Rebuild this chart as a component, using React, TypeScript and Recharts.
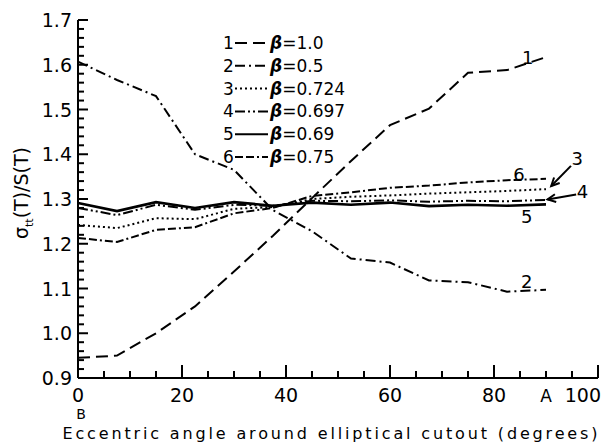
import React from 'react';
import { LineChart, Line, XAxis, YAxis, Legend, ReferenceDot, ReferenceLine } from 'recharts';

// eccentric angle (degrees) at which the stress ratio was sampled
const angles = [0, 7.5, 15, 22.5, 30, 37.5, 45, 52.5, 60, 67.5, 75, 82.5, 90];

const beta100 = [0.945, 0.95, 1.0, 1.06, 1.138, 1.218, 1.302, 1.385, 1.465, 1.502, 1.582, 1.588, 1.617];
const beta050 = [1.607, 1.566, 1.53, 1.4, 1.365, 1.275, 1.228, 1.167, 1.158, 1.118, 1.114, 1.093, 1.097];
const beta0724 = [1.242, 1.235, 1.257, 1.255, 1.278, 1.282, 1.3, 1.305, 1.308, 1.312, 1.315, 1.318, 1.322];
const beta0697 = [1.28, 1.264, 1.287, 1.276, 1.287, 1.285, 1.296, 1.295, 1.297, 1.294, 1.296, 1.295, 1.298];
const beta069 = [1.291, 1.273, 1.293, 1.28, 1.293, 1.285, 1.292, 1.287, 1.292, 1.284, 1.287, 1.285, 1.288];
const beta075 = [1.213, 1.204, 1.231, 1.237, 1.268, 1.28, 1.307, 1.315, 1.325, 1.33, 1.337, 1.342, 1.345];

const seriesKeys = ['b1', 'b2', 'b3', 'b4', 'b5', 'b6'];
const seriesValues = [beta100, beta050, beta0724, beta0697, beta069, beta075];
const seriesNumbers = ['1', '2', '3', '4', '5', '6'];
const seriesBetas = ['1.0', '0.5', '0.724', '0.697', '0.69', '0.75'];
const seriesDashes = ['12 6', '10 4 2 4', '2 3', '10 3 2 3 2 3', '', '8 3 8 3 2 3'];
const seriesWidths = [2, 2, 2, 2, 2.6, 2];

// curve tags written on the plot, in data units
const tagText = ['1', '2', '3', '4', '5', '6'];
const tagX = [86.5, 86.3, 96, 97, 86.3, 84.8];
const tagY = [1.617, 1.117, 1.392, 1.318, 1.262, 1.356];

// arrows from tags 3 and 4 to their curves
const arrowFrom = [{ x: 94.8, y: 1.374 }, { x: 95.8, y: 1.31 }];
const arrowTo = [{ x: 91, y: 1.329 }, { x: 90.3, y: 1.299 }];

const xTickLabels: Record<number, string> = { 0: '0', 20: '20', 40: '40', 60: '60', 80: '80', 90: 'A', 100: '100' };
const yTickLabels = ['0.9', '1.0', '1.1', '1.2', '1.3', '1.4', '1.5', '1.6', '1.7'];

const xTicks = Array.from({ length: 21 }, (_, i) => i * 5);
const yTicks = Array.from({ length: 41 }, (_, i) => +(0.9 + i * 0.02).toFixed(2));
const yRightTicks = Array.from({ length: 17 }, (_, i) => +(0.9 + i * 0.05).toFixed(2));

const data = angles.map((a, i) => {
  const row: Record<string, number> = { angle: a };
  seriesKeys.forEach((k, s) => { row[k] = seriesValues[s][i]; });
  return row;
});

const FONT = '"DejaVu Sans", sans-serif';
const isTenth = (v: number) => Math.abs(v * 10 - Math.round(v * 10)) < 1e-6;

const BottomTick = (props: any) => {
  const { x, y, payload } = props;
  const v = payload.value;
  const major = v % 20 === 0;
  const label = xTickLabels[v];
  const last = v === 100;
  return (
    <g>
      <line x1={x} y1={y} x2={x} y2={y - (major ? 13 : 7)} stroke="#000" strokeWidth={2} />
      {label !== undefined && (
        <text
          x={last ? x + 3 : x}
          y={y + 24}
          textAnchor={last ? 'end' : 'middle'}
          fontSize={label === 'A' ? 17 : 19}
          fontFamily={FONT}
          fill="#000"
        >
          {label}
        </text>
      )}
      {v === 0 && (
        <text x={x + 3} y={y + 41} textAnchor="middle" fontSize={14} fontFamily={FONT} fill="#000">B</text>
      )}
    </g>
  );
};

const TopTick = (props: any) => {
  const { x, y, payload } = props;
  const major = payload.value % 20 === 0;
  return <line x1={x} y1={y} x2={x} y2={y + (major ? 13 : 7)} stroke="#000" strokeWidth={2} />;
};

const LeftTick = (props: any) => {
  const { x, y, payload } = props;
  const v = payload.value;
  const major = isTenth(v);
  const idx = Math.round((v - 0.9) * 10);
  return (
    <g>
      <line x1={x} y1={y} x2={x + (major ? 10 : 6)} y2={y} stroke="#000" strokeWidth={2} />
      {major && (
        <text x={x - 6} y={y + 7} textAnchor="end" fontSize={19} fontFamily={FONT} fill="#000">{yTickLabels[idx]}</text>
      )}
    </g>
  );
};

const RightTick = (props: any) => {
  const { x, y, payload } = props;
  const major = isTenth(payload.value);
  return <line x1={x} y1={y} x2={x - (major ? 11 : 8)} y2={y} stroke="#000" strokeWidth={2} />;
};

const LegendBox = () => (
  <svg width={130} height={140} style={{ overflow: 'visible' }}>
    {seriesNumbers.map((n, i) => {
      const cy = 13 + i * 22.8;
      return (
        <g key={n} fontFamily={FONT} fontSize={17} fill="#000">
          <text x={8} y={cy + 6}>{n}</text>
          <line x1={20} y1={cy} x2={53} y2={cy} stroke="#000" strokeWidth={2} strokeDasharray={seriesDashes[i] || undefined} />
          <text x={55} y={cy + 6}>
            <tspan fontWeight="bold" fontStyle="italic">β</tspan>=
            {seriesBetas[i]}
          </text>
        </g>
      );
    })}
  </svg>
);

const Arrow = (props: any) => {
  const { x1, y1, x2, y2 } = props;
  const ang = Math.atan2(y2 - y1, x2 - x1);
  const len = 9;
  const spread = 0.45;
  const ax = x2 - len * Math.cos(ang - spread);
  const ay = y2 - len * Math.sin(ang - spread);
  const bx = x2 - len * Math.cos(ang + spread);
  const by = y2 - len * Math.sin(ang + spread);
  return (
    <g>
      <line x1={x1} y1={y1} x2={x2} y2={y2} stroke="#000" strokeWidth={2} />
      <polyline points={`${ax},${ay} ${x2},${y2} ${bx},${by}`} fill="none" stroke="#000" strokeWidth={2} />
    </g>
  );
};

export default function App() {
  return (
    <div style={{ position: 'absolute', left: 0, top: 0, background: '#fff' }}>
      <LineChart width={603} height={442} data={data} margin={{ top: 20, right: 5, bottom: 0, left: 0 }}>
        <XAxis
          dataKey="angle"
          type="number"
          domain={[0, 100]}
          ticks={xTicks}
          interval={0}
          height={64}
          tickSize={0}
          tickMargin={0}
          tickLine={false}
          axisLine={{ stroke: '#000', strokeWidth: 2 }}
          tick={<BottomTick />}
          label={{
            content: () => (
              <text x={330} y={439} textAnchor="middle" fontSize={16} fontFamily={FONT} fill="#000" textLength={535} lengthAdjust="spacing">
                Eccentric angle around elliptical cutout (degrees)
              </text>
            ),
          }}
        />
        <XAxis
          xAxisId="top"
          orientation="top"
          dataKey="angle"
          type="number"
          domain={[0, 100]}
          ticks={xTicks}
          interval={0}
          height={0}
          tickSize={0}
          tickMargin={0}
          tickLine={false}
          axisLine={{ stroke: '#000', strokeWidth: 2 }}
          tick={<TopTick />}
        />
        <YAxis
          type="number"
          domain={[0.9, 1.7]}
          ticks={yTicks}
          interval={0}
          width={78}
          tickSize={0}
          tickMargin={0}
          tickLine={false}
          axisLine={{ stroke: '#000', strokeWidth: 2 }}
          tick={<LeftTick />}
          label={{
            content: () => (
              <text transform="translate(28,193) rotate(-90)" textAnchor="middle" fontSize={19} fontFamily={FONT} fill="#000">
                σ<tspan fontSize={11} dy={5}>tt</tspan><tspan dy={-5}>(T)/S(T)</tspan>
              </text>
            ),
          }}
        />
        <YAxis
          yAxisId="right"
          orientation="right"
          type="number"
          domain={[0.9, 1.7]}
          ticks={yRightTicks}
          interval={0}
          width={0}
          tickSize={0}
          tickMargin={0}
          tickLine={false}
          axisLine={{ stroke: '#000', strokeWidth: 2 }}
          tick={<RightTick />}
        />
        <Legend
          layout="vertical"
          align="center"
          verticalAlign="middle"
          content={<LegendBox />}
          wrapperStyle={{ left: 215, top: 30, width: 130, height: 140 }}
        />
        {seriesKeys.map((k, i) => (
          <Line
            key={k}
            dataKey={k}
            type="linear"
            stroke="#000"
            strokeWidth={seriesWidths[i]}
            strokeDasharray={seriesDashes[i] || undefined}
            dot={false}
            activeDot={false}
            isAnimationActive={false}
          />
        ))}
        {tagText.map((t, i) => (
          <ReferenceDot
            key={'tag' + t}
            x={tagX[i]}
            y={tagY[i]}
            r={0}
            ifOverflow="visible"
            shape={(p: any) => (
              <text x={p.cx} y={p.cy + 7} textAnchor="middle" fontSize={18} fontFamily={FONT} fill="#000">{t}</text>
            )}
          />
        ))}
        {arrowFrom.map((f, i) => (
          <ReferenceLine
            key={'arrow' + i}
            segment={[f, arrowTo[i]]}
            ifOverflow="visible"
            shape={<Arrow />}
          />
        ))}
      </LineChart>
    </div>
  );
}
